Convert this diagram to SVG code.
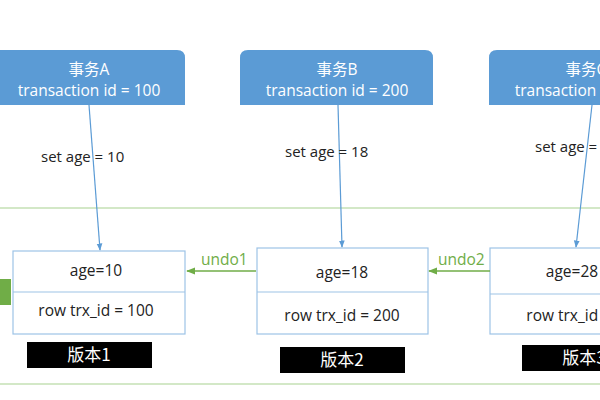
<svg xmlns="http://www.w3.org/2000/svg" width="600" height="400" viewBox="0 0 600 400">
<defs>
<style>
.tx{fill:#5b9bd5}
.tt{fill:#fff;font-family:"Open Sans","Liberation Sans","Noto Sans CJK SC",sans-serif;font-size:15.5px;text-anchor:middle}
.lbl{fill:#222;font-family:"Open Sans","Liberation Sans",sans-serif;font-size:15px}
.ver{fill:#fff;stroke:#9dc3e6;stroke-width:1.2}
.vt{fill:#222;font-family:"Open Sans","Liberation Sans",sans-serif;font-size:15.5px;text-anchor:middle}
.tag{fill:#000}
.tagt{fill:#fff;font-family:"Noto Sans CJK SC","Liberation Sans",sans-serif;font-size:17px;text-anchor:middle}
.blue{stroke:#5b9bd5;stroke-width:1.2;fill:none}
.green{stroke:#70ad47;stroke-width:1.5;fill:none}
.gl{stroke:#c5e0b4;stroke-width:1.5}
.ut{fill:#70ad47;font-family:"Open Sans","Liberation Sans",sans-serif;font-size:15.5px}
</style>
<marker id="ab" viewBox="0 0 10 10" refX="9" refY="5" markerWidth="6" markerHeight="6" orient="auto"><path d="M0,1 L10,5 L0,9 z" fill="#5b9bd5"/></marker>
<marker id="ag" viewBox="0 0 10 10" refX="9" refY="5" markerWidth="6" markerHeight="6" orient="auto"><path d="M0,1 L10,5 L0,9 z" fill="#70ad47"/></marker>
</defs>
<rect width="600" height="400" fill="#fff"/>
<line class="gl" x1="0" y1="208" x2="600" y2="208"/>
<line class="gl" x1="0" y1="384" x2="600" y2="384"/>
<rect x="0" y="279" width="11" height="26" fill="#70ad47"/>

<g id="txA">
<path class="tx" d="M-10,105 V58 Q-10,50 -2,50 H177 Q185,50 185,58 V105 Z"/>
<text class="tt" x="89" y="75">事务A</text>
<text class="tt" x="89" y="96">transaction id = 100</text>
</g>
<g id="txB">
<path class="tx" d="M240,105 V58 Q240,50 248,50 H425 Q433,50 433,58 V105 Z"/>
<text class="tt" x="337" y="75">事务B</text>
<text class="tt" x="337" y="96">transaction id = 200</text>
</g>
<g id="txC">
<path class="tx" d="M489,105 V58 Q489,50 497,50 H674 Q682,50 682,58 V105 Z"/>
<text class="tt" x="586" y="75">事务C</text>
<text class="tt" x="586" y="96">transaction id = 300</text>
</g>

<g id="v1">
<rect class="ver" x="13" y="251" width="172" height="83"/>
<line class="ver" x1="13" y1="292" x2="185" y2="292"/>
<text class="vt" x="96" y="276">age=10</text>
<text class="vt" x="96" y="316">row trx_id = 100</text>
</g>
<g id="v2">
<rect class="ver" x="257" y="248" width="171" height="86"/>
<line class="ver" x1="257" y1="292" x2="428" y2="292"/>
<text class="vt" x="342" y="278">age=18</text>
<text class="vt" x="342" y="321">row trx_id = 200</text>
</g>
<g id="v3">
<rect class="ver" x="490" y="248" width="172" height="86"/>
<line class="ver" x1="490" y1="294" x2="662" y2="294"/>
<text class="vt" x="572" y="277">age=28</text>
<text class="vt" x="584" y="321">row trx_id = 300</text>
</g>

<g id="tag1"><rect class="tag" x="27" y="342" width="125" height="26"/><text class="tagt" x="89" y="361">版本1</text></g>
<g id="tag2"><rect class="tag" x="280" y="347" width="125" height="26"/><text class="tagt" x="342" y="366">版本2</text></g>
<g id="tag3"><rect class="tag" x="522" y="345" width="125" height="26"/><text class="tagt" x="584" y="364">版本3</text></g>

<g id="connectors">
<line class="blue" x1="89" y1="105" x2="100" y2="250" marker-end="url(#ab)"/>
<line class="blue" x1="338" y1="105" x2="342" y2="247" marker-end="url(#ab)"/>
<line class="blue" x1="592" y1="105" x2="576" y2="247" marker-end="url(#ab)"/>
<line class="green" x1="256" y1="271" x2="187" y2="271" marker-end="url(#ag)"/>
<line class="green" x1="490" y1="271" x2="429" y2="271" marker-end="url(#ag)"/>
<text class="ut" x="201" y="265">undo1</text>
<text class="ut" x="438" y="265">undo2</text>
<text class="lbl" x="41" y="162">set age = 10</text>
<text class="lbl" x="285" y="157">set age = 18</text>
<text class="lbl" x="535" y="152">set age = 28</text>
</g>
</svg>
